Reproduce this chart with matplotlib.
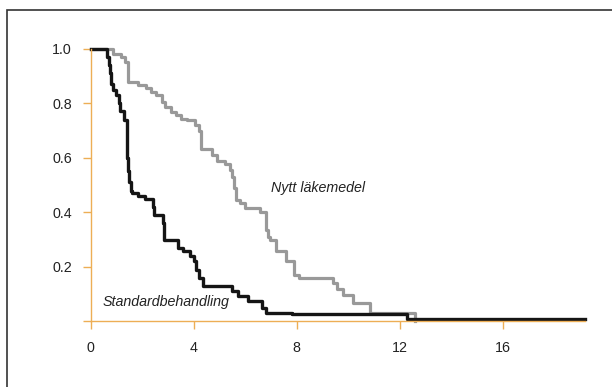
import matplotlib
matplotlib.use("Agg")
import matplotlib.pyplot as plt
from matplotlib.patches import Rectangle

plt.rcParams['font.family'] = ['Liberation Sans', 'DejaVu Sans']

# Standardbehandling (black), step times and survival after each step
t_std = [0, 0.65, 0.70, 0.74, 0.78, 0.85, 1.0, 1.1, 1.15, 1.3, 1.42, 1.45, 1.5, 1.55,
         1.6, 1.83, 2.1, 2.4, 2.45, 2.8, 2.83, 2.86, 3.4, 3.6, 3.85, 4.0, 4.1, 4.2,
         4.35, 5.5, 5.7, 6.1, 6.65, 6.8, 7.8, 12.3, 19.2]
s_std = [1.0, 0.97, 0.94, 0.91, 0.87, 0.85, 0.83, 0.80, 0.77, 0.74, 0.60, 0.55, 0.51, 0.48,
         0.47, 0.46, 0.45, 0.42, 0.39, 0.36, 0.33, 0.30, 0.27, 0.26, 0.24, 0.22, 0.19, 0.16,
         0.13, 0.11, 0.095, 0.075, 0.05, 0.032, 0.028, 0.008, 0.008]

# Nytt läkemedel (grey)
t_new = [0, 0.87, 1.19, 1.32, 1.46, 1.84, 2.16, 2.36, 2.55, 2.75, 2.9, 3.1, 3.3, 3.5,
         3.74, 4.05, 4.2, 4.3, 4.7, 4.9, 5.2, 5.4, 5.5, 5.55, 5.65, 5.8, 6.0, 6.57, 6.8,
         6.9, 6.97, 7.2, 7.6, 7.9, 8.1, 9.4, 9.55, 9.8, 10.2, 10.85, 12.6]
s_new = [1.0, 0.982, 0.97, 0.952, 0.878, 0.866, 0.856, 0.842, 0.83, 0.805, 0.787, 0.768,
         0.757, 0.744, 0.738, 0.72, 0.70, 0.634, 0.61, 0.59, 0.579, 0.555, 0.53, 0.49,
         0.445, 0.433, 0.415, 0.40, 0.335, 0.31, 0.30, 0.26, 0.22, 0.17, 0.158, 0.14,
         0.12, 0.097, 0.067, 0.032, 0.0]

xticks = [0, 4, 8, 12, 16]
yticks = [0, 0.2, 0.4, 0.6, 0.8, 1.0]
ylabels = ['', '0.2', '0.4', '0.6', '0.8', '1.0']

orange = '#EDAE55'

fig = plt.figure(figsize=(6.12, 3.87), dpi=100)
ax = fig.add_axes([0.1482, 0.1693, 0.808, 0.7048])

ax.step(t_new, s_new, where='post', color='#999999', lw=2.3, clip_on=False)
ax.step(t_std, s_std, where='post', color='#151515', lw=2.4, clip_on=False)

ax.set_xlim(0, 19.2)
ax.set_ylim(0, 1.0)
ax.set_xticks(xticks)
ax.set_xticklabels([str(x) for x in xticks])
ax.set_yticks(yticks)
ax.set_yticklabels(ylabels)

for s in ['top', 'right']:
    ax.spines[s].set_visible(False)
for s in ['left', 'bottom']:
    ax.spines[s].set_color(orange)
    ax.spines[s].set_linewidth(1.0)
ax.tick_params(axis='both', direction='out', length=6, width=1.0, color=orange,
               labelsize=10.3, labelcolor='#222222')
ax.tick_params(axis='x', pad=8)
ax.tick_params(axis='y', pad=7.5)

ax.text(6.99, 0.473, 'Nytt läkemedel', style='italic', fontsize=10.3,
        color='#222222', ha='left', va='baseline')
ax.text(0.47, 0.057, 'Standardbehandling', style='italic', fontsize=10.3,
        color='#222222', ha='left', va='baseline')

# frame around the figure (cut off at right and bottom)
fig.add_artist(Rectangle((7 / 612, -0.5), 2.0, 0.5 + 1 - 10 / 387,
                         transform=fig.transFigure, fill=False,
                         edgecolor='#333333', lw=1.2))

fig.savefig('out.png', dpi=100)
